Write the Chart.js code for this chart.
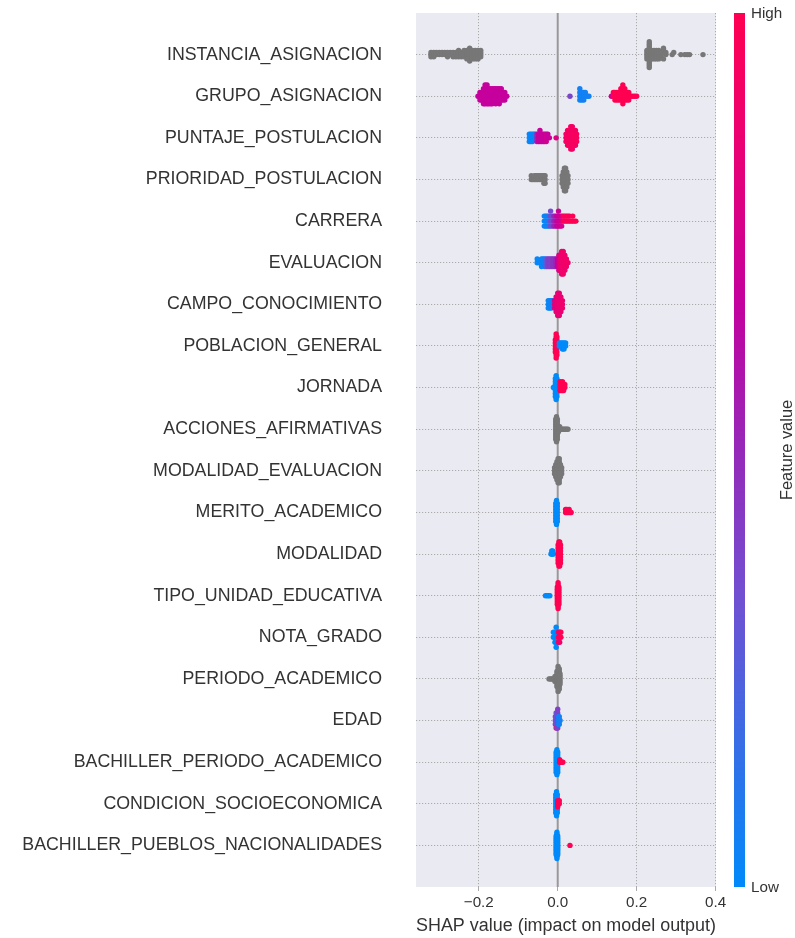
<!DOCTYPE html>
<html>
<head>
<meta charset="utf-8">
<script src="https://cdn.jsdelivr.net/npm/chart.js@4.4.1/dist/chart.umd.min.js"></script>
<style>
  html, body { margin: 0; padding: 0; background: #ffffff; }
  canvas { display: block; }
</style>
</head>
<body>
<canvas id="shapChart" width="795" height="938"></canvas>
<script>
// ===== DATA =====
const features = [
  'INSTANCIA_ASIGNACION', 'GRUPO_ASIGNACION', 'PUNTAJE_POSTULACION', 'PRIORIDAD_POSTULACION',
  'CARRERA', 'EVALUACION', 'CAMPO_CONOCIMIENTO', 'POBLACION_GENERAL', 'JORNADA',
  'ACCIONES_AFIRMATIVAS', 'MODALIDAD_EVALUACION', 'MERITO_ACADEMICO', 'MODALIDAD',
  'TIPO_UNIDAD_EDUCATIVA', 'NOTA_GRADO', 'PERIODO_ACADEMICO', 'EDAD',
  'BACHILLER_PERIODO_ACADEMICO', 'CONDICION_SOCIOECONOMICA', 'BACHILLER_PUEBLOS_NACIONALIDADES'
];

// each entry: [shap value, number of samples, feature value 0..1 (null = no value, grey)]
const instanciaAsignacion = [
  [-0.321, 3, null], [-0.314, 3, null], [-0.307, 2, null], [-0.300, 2, null], [-0.293, 2, null],
  [-0.286, 2, null], [-0.279, 3, null], [-0.272, 2, null], [-0.265, 3, null], [-0.258, 3, null],
  [-0.251, 4, null], [-0.244, 3, null], [-0.237, 4, null], [-0.230, 5, null], [-0.223, 7, null],
  [-0.216, 5, null], [-0.209, 5, null], [-0.202, 5, null], [-0.195, 4, null],
  [0.226, 5, null], [0.232, 13, null], [0.238, 5, null], [0.244, 5, null], [0.250, 5, null],
  [0.256, 5, null], [0.262, 3, null], [0.268, 3, null], [0.274, 2, null], [0.290, 1, null],
  [0.294, 1, null], [0.312, 1, null], [0.322, 1, null], [0.328, 1, null], [0.334, 1, null],
  [0.368, 1, null]
];
const grupoAsignacion = [
  [-0.202, 1, 0.68], [-0.197, 3, 0.68], [-0.193, 3, 0.68], [-0.188, 5, 0.68], [-0.184, 6, 0.68],
  [-0.179, 6, 0.68], [-0.175, 5, 0.68], [-0.170, 5, 0.68], [-0.166, 5, 0.68], [-0.161, 4, 0.68],
  [-0.157, 5, 0.68], [-0.152, 4, 0.68], [-0.148, 5, 0.68], [-0.143, 4, 0.68], [-0.139, 3, 0.68],
  [-0.134, 3, 0.68], [-0.129, 1, 0.68],
  [0.031, 1, 0.38], [0.056, 4, 0.05], [0.061, 3, 0.05], [0.066, 3, 0.05], [0.070, 2, 0.05],
  [0.075, 1, 0.05], [0.079, 1, 0.05],
  [0.136, 1, 0.7], [0.141, 2, 1], [0.145, 3, 1], [0.150, 3, 1], [0.155, 3, 1], [0.160, 4, 1],
  [0.165, 6, 1], [0.170, 4, 1], [0.175, 3, 1], [0.180, 3, 1], [0.185, 1, 1], [0.190, 1, 1],
  [0.195, 1, 1], [0.200, 1, 1]
];
const puntajePostulacion = [
  [-0.072, 3, 0.02], [-0.068, 3, 0.02], [-0.064, 3, 0.02], [-0.060, 2, 0.02], [-0.057, 2, 0.05],
  [-0.053, 3, 0.5], [-0.049, 3, 0.68], [-0.045, 4, 0.68], [-0.041, 3, 0.68], [-0.037, 3, 0.7],
  [-0.033, 3, 0.68], [-0.029, 3, 0.72], [-0.025, 2, 0.68], [-0.021, 1, 0.7], [-0.004, 1, 0.78],
  [0.021, 3, 0.9], [0.025, 5, 0.95], [0.029, 5, 0.9], [0.033, 7, 0.95], [0.037, 7, 0.92],
  [0.041, 5, 0.95], [0.045, 5, 0.92], [0.048, 3, 0.95]
];
const prioridadPostulacion = [
  [-0.067, 2, null], [-0.063, 1, null], [-0.059, 2, null], [-0.055, 2, null], [-0.051, 2, null],
  [-0.047, 2, null], [-0.043, 2, null], [-0.039, 2, null], [-0.035, 3, null], [-0.032, 3, null],
  [0.011, 3, null], [0.014, 5, null], [0.017, 7, null], [0.020, 7, null], [0.023, 5, null],
  [0.026, 3, null]
];
const carrera = [
  [-0.034, 3, 0.03], [-0.030, 3, 0.03], [-0.026, 3, 0.05], [-0.022, 3, 0.1], [-0.018, 4, 0.35],
  [-0.014, 3, 0.35], [-0.010, 3, 0.5], [-0.006, 3, 0.55], [-0.002, 3, 0.68], [0.002, 4, 0.7],
  [0.006, 3, 0.72], [0.010, 3, 0.75], [0.014, 2, 0.95], [0.018, 2, 1], [0.022, 2, 0.95],
  [0.026, 2, 1], [0.030, 2, 0.95], [0.034, 1, 1], [0.038, 2, 1], [0.042, 1, 1], [0.046, 1, 1]
];
const evaluacion = [
  [-0.052, 2, 0.02], [-0.046, 1, 0.02], [-0.041, 3, 0.02], [-0.037, 2, 0.05], [-0.033, 3, 0.05],
  [-0.029, 3, 0.25], [-0.025, 3, 0.4], [-0.021, 3, 0.42], [-0.017, 3, 0.4], [-0.013, 3, 0.45],
  [-0.009, 3, 0.45], [-0.005, 3, 0.5], [-0.001, 3, 0.68], [0.003, 5, 0.72], [0.006, 5, 0.85],
  [0.010, 7, 0.88], [0.014, 7, 0.9], [0.018, 5, 0.88], [0.022, 3, 0.9], [0.026, 1, 0.9]
];
const campoConocimiento = [
  [-0.024, 3, 0.03], [-0.020, 3, 0.03], [-0.016, 3, 0.05], [-0.012, 2, 0.1], [-0.008, 3, 0.8],
  [-0.004, 5, 0.82], [0.000, 7, 0.85], [0.004, 7, 0.85], [0.008, 5, 0.85], [0.012, 3, 0.88]
];
const poblacionGeneral = [
  [-0.006, 5, 1], [-0.004, 9, 1], [-0.002, 7, 1], [0.004, 2, 0], [0.008, 2, 0], [0.012, 3, 0],
  [0.016, 3, 0], [0.020, 2, 0]
];
const jornada = [
  [-0.011, 1, 0], [-0.006, 7, 0], [-0.004, 9, 0], [-0.002, 7, 0], [0.006, 4, 1], [0.009, 3, 1],
  [0.012, 4, 1], [0.015, 3, 1], [0.018, 2, 1]
];
const accionesAfirmativas = [
  [-0.005, 9, null], [-0.003, 11, null], [-0.001, 9, null], [0.002, 3, null], [0.005, 2, null],
  [0.008, 1, null], [0.011, 1, null], [0.014, 1, null], [0.017, 1, null], [0.020, 1, null],
  [0.023, 1, null], [0.026, 1, null]
];
const modalidadEvaluacion = [
  [-0.008, 3, null], [-0.005, 5, null], [-0.002, 7, null], [0.001, 9, null], [0.004, 9, null],
  [0.007, 5, null], [0.010, 3, null]
];
const meritoAcademico = [
  [-0.005, 7, 0], [-0.003, 9, 0], [-0.001, 7, 0], [0.020, 2, 1], [0.023, 2, 1], [0.026, 1, 1],
  [0.029, 2, 1], [0.032, 1, 1], [0.034, 1, 1]
];
const modalidad = [
  [-0.017, 1, 0], [-0.015, 2, 0], [-0.013, 2, 0], [-0.011, 1, 0], [0.001, 7, 1], [0.003, 9, 1],
  [0.005, 9, 1], [0.007, 7, 1]
];
const tipoUnidadEducativa = [
  [-0.031, 1, 0], [-0.028, 1, 0], [-0.025, 1, 0], [-0.022, 1, 0], [-0.020, 1, 0],
  [-0.001, 9, 1], [0.001, 13, 1], [0.003, 9, 1]
];
const notaGrado = [
  [-0.011, 2, 0], [-0.007, 3, 0], [-0.004, 5, 0], [-0.001, 3, 0], [0.002, 3, 1], [0.005, 3, 0.9],
  [0.008, 2, 1]
];
const periodoAcademico = [
  [-0.022, 1, null], [-0.019, 1, null], [-0.016, 1, null], [-0.013, 1, null], [-0.010, 1, null],
  [-0.007, 3, null], [-0.002, 7, null], [0.001, 11, null], [0.004, 9, null], [0.006, 5, null]
];
const edad = [
  [-0.006, 3, 0.35], [-0.004, 4, 0.35], [-0.004, 1, 1], [-0.002, 5, 0.3], [0.000, 6, 0.4],
  [0.002, 3, 0.05], [0.004, 3, 0.05], [0.006, 1, 0.05]
];
const bachillerPeriodoAcademico = [
  [-0.004, 9, 0], [-0.002, 11, 0], [0.000, 9, 0], [0.005, 2, 1], [0.007, 1, 1], [0.009, 1, 1],
  [0.011, 1, 1], [0.013, 1, 1]
];
const condicionSocioeconomica = [
  [-0.005, 7, 0], [-0.003, 9, 0], [-0.001, 7, 0], [0.000, 3, 1], [0.004, 2, 1]
];
const bachillerPueblosNacionalidades = [
  [-0.004, 11, 0], [-0.002, 15, 0], [0.000, 11, 0], [0.031, 1, 1]
];

const shapRows = [
  instanciaAsignacion, grupoAsignacion, puntajePostulacion, prioridadPostulacion, carrera,
  evaluacion, campoConocimiento, poblacionGeneral, jornada, accionesAfirmativas,
  modalidadEvaluacion, meritoAcademico, modalidad, tipoUnidadEducativa, notaGrado,
  periodoAcademico, edad, bachillerPeriodoAcademico, condicionSocioeconomica,
  bachillerPueblosNacionalidades
];

const xTicks = [-0.2, 0.0, 0.2, 0.4];
const xTickLabels = ['\u22120.2', '0.0', '0.2', '0.4'];
const colorbarLabels = { high: 'High', low: 'Low', title: 'Feature value' };
const xTitle = 'SHAP value (impact on model output)';

// ===== COLORS =====
const cmapStops = [
  [0.00, [0, 138, 250]],
  [0.33, [112, 80, 210]],
  [0.50, [150, 40, 185]],
  [0.67, [196, 0, 158]],
  [0.85, [235, 0, 115]],
  [1.00, [255, 0, 82]]
];
function cmap(t) {
  for (let i = 1; i < cmapStops.length; i++) {
    const [t1, c1] = cmapStops[i];
    const [t0, c0] = cmapStops[i - 1];
    if (t <= t1) {
      const f = (t - t0) / (t1 - t0);
      const c = c0.map((v, k) => Math.round(v + (c1[k] - v) * f));
      return `rgb(${c[0]},${c[1]},${c[2]})`;
    }
  }
  return 'rgb(255,0,82)';
}

// ===== BEESWARM (same stacking as shap summary plot) =====
function beeswarm(entries) {
  const pts = [];
  entries.forEach(([x, n, fv]) => {
    for (let i = 0; i < n; i++) pts.push({ x, fv });
  });
  const xs = pts.map(p => p.x);
  const lo = Math.min(...xs), hi = Math.max(...xs);
  const nbins = 100;
  pts.forEach(p => { p.q = Math.round(nbins * (p.x - lo) / (hi - lo + 1e-8)); });
  const order = pts.map((p, i) => i).sort((a, b) => (pts[a].q - pts[b].q) || (a - b));
  let layer = 0, last = -1;
  order.forEach(i => {
    if (pts[i].q !== last) layer = 0;
    pts[i].off = Math.ceil(layer / 2) * ((layer % 2) * 2 - 1);
    layer++;
    last = pts[i].q;
  });
  const m = Math.max(...pts.map(p => p.off + 1));
  pts.forEach(p => { p.off *= 0.9 * (0.4 / m); });
  return pts;
}

const datasets = shapRows.map((row, i) => {
  const pts = beeswarm(row);
  return {
    label: features[i],
    data: pts.map(p => ({ x: p.x, y: i - p.off })),
    backgroundColor: pts.map(p => p.fv === null ? '#777777' : cmap(p.fv)),
    borderWidth: 0,
    pointRadius: 2.7
  };
});

// ===== PLUGINS =====
const FONT = '"Liberation Sans", Arial, Helvetica, sans-serif';

const backgroundPlugin = {
  id: 'plotBackground',
  beforeDraw(chart) {
    const { ctx, chartArea: a } = chart;
    ctx.save();
    ctx.fillStyle = '#eaeaf2';
    ctx.fillRect(a.left, a.top, a.right - a.left, a.bottom - a.top);
    ctx.restore();
  }
};

const zeroLinePlugin = {
  id: 'zeroLine',
  beforeDatasetsDraw(chart) {
    const { ctx, chartArea: a } = chart;
    const x = chart.scales.x.getPixelForValue(0);
    ctx.save();
    ctx.strokeStyle = '#999999';
    ctx.lineWidth = 2;
    ctx.beginPath();
    ctx.moveTo(x, a.top);
    ctx.lineTo(x, a.bottom);
    ctx.stroke();
    ctx.restore();
  }
};

const colorbarPlugin = {
  id: 'colorbar',
  afterDraw(chart) {
    const { ctx, chartArea: a } = chart;
    const x0 = a.right + 18, w = 11;
    const g = ctx.createLinearGradient(0, a.bottom, 0, a.top);
    cmapStops.forEach(([t, c]) => g.addColorStop(t, `rgb(${c[0]},${c[1]},${c[2]})`));
    ctx.save();
    ctx.fillStyle = g;
    ctx.fillRect(x0, a.top, w, a.bottom - a.top);
    ctx.fillStyle = '#333333';
    ctx.font = `15.2px ${FONT}`;
    ctx.textAlign = 'left';
    ctx.textBaseline = 'middle';
    ctx.fillText(colorbarLabels.high, x0 + w + 6, a.top + 1);
    ctx.fillText(colorbarLabels.low, x0 + w + 6, a.bottom + 1);
    ctx.translate(787, (a.top + a.bottom) / 2);
    ctx.rotate(-Math.PI / 2);
    ctx.textAlign = 'center';
    ctx.font = `16.4px ${FONT}`;
    ctx.fillText(colorbarLabels.title, 0, 0);
    ctx.restore();
  }
};

// ===== CHART =====
Chart.defaults.font.family = FONT;
Chart.defaults.color = '#333333';

new Chart(document.getElementById('shapChart'), {
  type: 'scatter',
  data: { datasets },
  options: {
    responsive: false,
    animation: false,
    devicePixelRatio: 1,
    events: [],
    layout: { padding: { top: 13, right: 79, left: 0, bottom: 0 } },
    plugins: { legend: { display: false }, tooltip: { enabled: false } },
    scales: {
      x: {
        type: 'linear',
        min: -0.359,
        max: 0.401,
        afterBuildTicks: axis => { axis.ticks = xTicks.map(v => ({ value: v })); },
        afterFit: axis => {
          axis.height = 51;
          axis.paddingLeft = 0;
          axis.paddingRight = 0;
        },
        ticks: {
          callback: (v) => xTickLabels[xTicks.indexOf(v)] ?? '',
          font: { size: 15.2 },
          color: '#333333',
          padding: 3,
          maxRotation: 0
        },
        grid: { color: '#aaaaaa', lineWidth: 1, tickLength: 4, tickColor: '#aaaaaa' },
        border: { display: false, dash: [1.2, 1.8] },
        title: {
          display: true,
          text: xTitle,
          font: { size: 18 },
          color: '#333333',
          padding: { top: 0, bottom: 1 }
        }
      },
      y: {
        type: 'linear',
        min: -1,
        max: 20,
        reverse: true,
        afterBuildTicks: axis => { axis.ticks = features.map((f, i) => ({ value: i })); },
        afterFit: axis => {
          axis.width = 416;
          axis.paddingTop = 0;
          axis.paddingBottom = 0;
        },
        ticks: {
          callback: (v) => features[v] ?? '',
          font: { size: 17.8 },
          color: '#333333',
          padding: 34
        },
        grid: { color: '#aaaaaa', lineWidth: 1, drawTicks: false },
        border: { display: false, dash: [1.2, 1.8] }
      }
    }
  },
  plugins: [backgroundPlugin, zeroLinePlugin, colorbarPlugin]
});
</script>
</body>
</html>
